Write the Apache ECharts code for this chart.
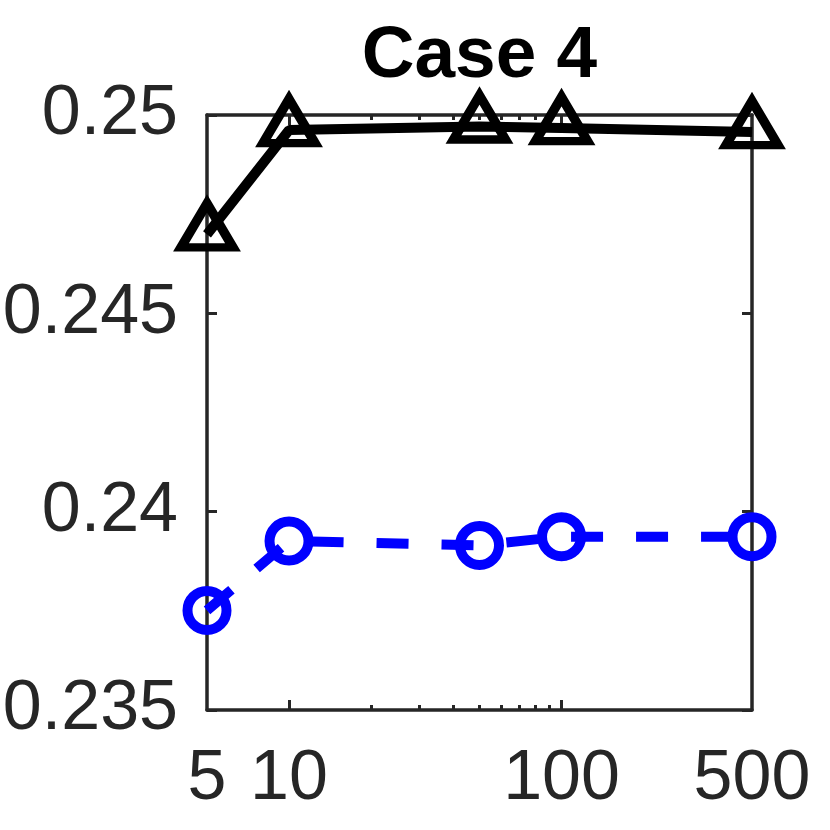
<!DOCTYPE html>
<html>
<head>
<meta charset="utf-8">
<script src="https://cdn.jsdelivr.net/npm/echarts@6/dist/echarts.min.js"></script>
<style>
  html, body { margin: 0; padding: 0; background: #ffffff; }
  #chart { width: 830px; height: 830px; }
</style>
</head>
<body>
<div id="chart"></div>
<script>
// ---- data ----
const titleText = 'Case 4';
const xValues = [5, 10, 50, 100, 500];
const blackValues = [0.24699, 0.24962, 0.24971, 0.24967, 0.24957];
const blueValues = [0.23751, 0.23926, 0.23915, 0.23937, 0.23937];
const xTickLabels = [5, 10, 100, 500];
const xMajorTicks = [10, 100];
const xMinorTicks = [20, 30, 40, 50, 60, 70, 80, 90];
const yMin = 0.235, yMax = 0.25, yStep = 0.005;
const xMin = 5, xMax = 500;

const axisColor = '#262626';
const font = 'Liberation Sans, Arial, Helvetica, sans-serif';

function pairs(xs, ys) { return xs.map((x, i) => [x, ys[i]]); }

function xAx(position, ticks, tickLen, showLine, labels) {
  return {
    type: 'log', logBase: 10, min: xMin, max: xMax, position: position,
    axisLine: { show: showLine, onZero: false, lineStyle: { color: axisColor, width: 3.5 } },
    axisTick: { show: true, inside: true, length: tickLen, customValues: ticks,
                lineStyle: { color: axisColor, width: 3 } },
    axisLabel: labels ? {
      show: true, customValues: labels, fontSize: 70, fontFamily: font, color: axisColor,
      margin: 35, formatter: v => String(Math.round(v))
    } : { show: false },
    splitLine: { show: false }, minorTick: { show: false }, minorSplitLine: { show: false }
  };
}
function yAx(position, labels) {
  return {
    type: 'value', min: yMin, max: yMax, interval: yStep, position: position,
    axisLine: { show: true, onZero: false, lineStyle: { color: axisColor, width: 3.5 } },
    axisTick: { show: true, inside: true, length: 10, lineStyle: { color: axisColor, width: 3 } },
    axisLabel: labels ? {
      show: true, fontSize: 70, fontFamily: font, color: axisColor, margin: 29,
      formatter: v => String(+(+v).toFixed(3))
    } : { show: false },
    splitLine: { show: false }
  };
}

const chart = echarts.init(document.getElementById('chart'));
chart.setOption({
  animation: false,
  backgroundColor: '#ffffff',
  title: {
    text: titleText, left: 479.5, top: 20, textAlign: 'center', padding: 0,
    textStyle: { fontSize: 73, fontWeight: 'bold', color: '#000', fontFamily: font }
  },
  grid: { left: 207, right: 78, top: 115, bottom: 120, containLabel: false, outerBoundsMode: 'none' },
  xAxis: [
    xAx('bottom', xMajorTicks, 10, true, xTickLabels),
    xAx('bottom', xMinorTicks, 5, false, null),
    xAx('top', xMajorTicks, 10, true, null),
    xAx('top', xMinorTicks, 5, false, null)
  ],
  yAxis: [ yAx('left', true), yAx('right', false) ],
  series: [
    {
      type: 'line', xAxisIndex: 0, yAxisIndex: 0, clip: false,
      data: pairs(xValues, blackValues),
      lineStyle: { color: '#000000', width: 10 },
      symbol: 'triangle', symbolSize: [52, 44], symbolOffset: [0, -9],
      itemStyle: { color: 'rgba(0,0,0,0)', borderColor: '#000000', borderWidth: 9 },
      z: 3
    },
    {
      type: 'line', xAxisIndex: 0, yAxisIndex: 0, clip: false,
      data: pairs(xValues, blueValues),
      lineStyle: { color: '#0000ff', width: 10, type: [32, 33] },
      symbol: 'circle', symbolSize: 39,
      itemStyle: { color: 'rgba(0,0,0,0)', borderColor: '#0000ff', borderWidth: 10 },
      z: 3
    }
  ]
});
</script>
</body>
</html>
